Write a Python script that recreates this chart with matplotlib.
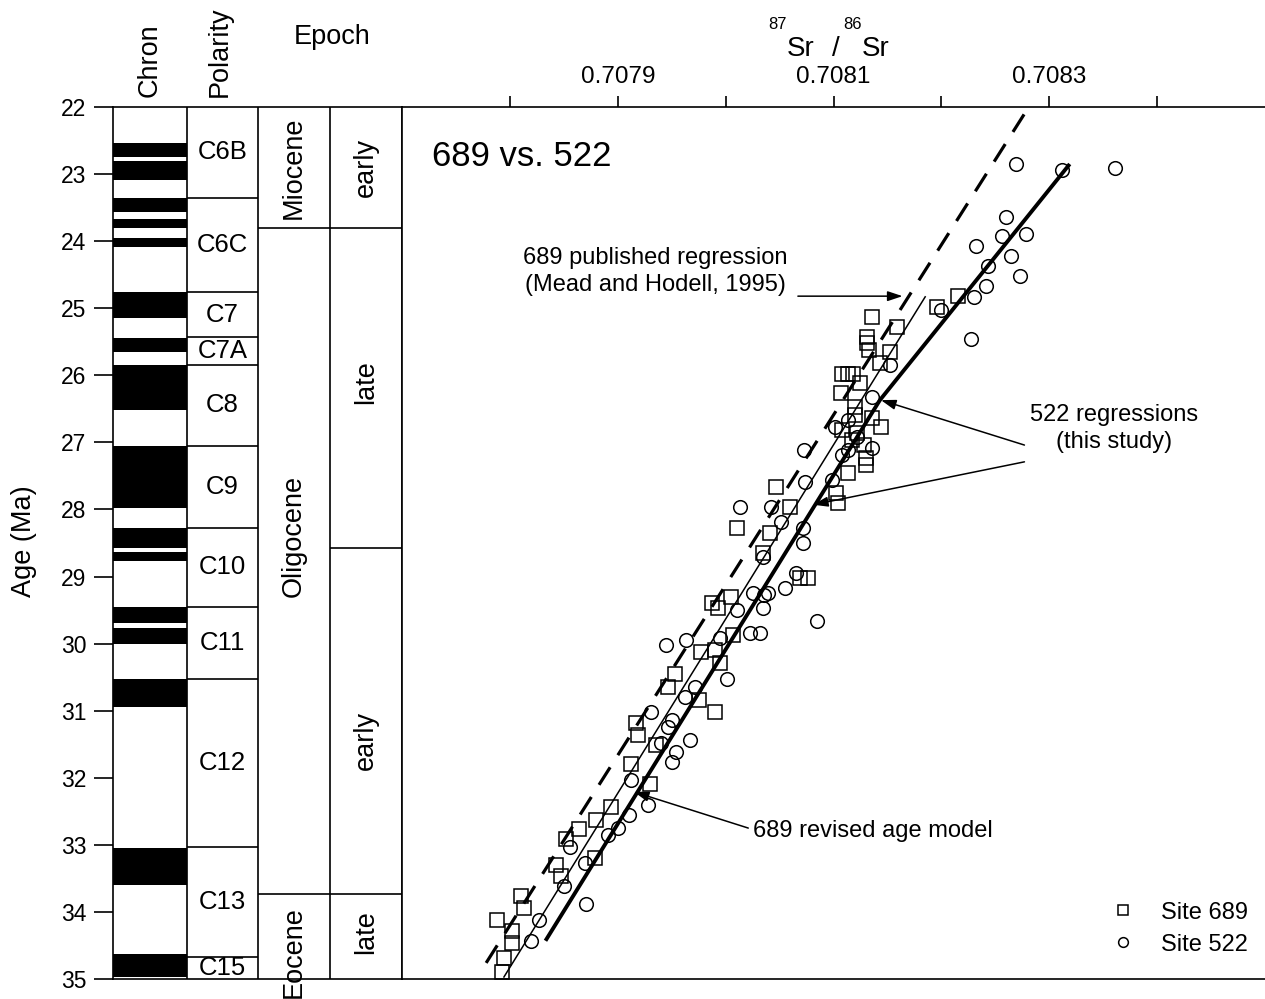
# ==========================================================
# Sr isotope stratigraphy: Site 689 vs. Site 522
# ==========================================================
import matplotlib
matplotlib.use("Agg")
import matplotlib.pyplot as plt
from matplotlib.lines import Line2D

plt.rcParams['font.family'] = ['Liberation Sans', 'DejaVu Sans']

# -------------------------
# Data
# -------------------------
# magnetic chrons: normal polarity (black) intervals, Ma
chron_black_top = [22.54, 22.80, 23.36, 23.67, 23.96, 24.76, 25.44, 25.85,
                   27.05, 28.28, 28.63, 29.46, 29.77, 30.53, 33.04, 34.63]
chron_black_base = [22.74, 23.09, 23.57, 23.80, 24.09, 25.15, 25.65, 26.52,
                    27.98, 28.58, 28.77, 29.69, 30.01, 30.95, 33.60, 34.97]

polarity_names = ["C6B", "C6C", "C7", "C7A", "C8", "C9", "C10", "C11",
                  "C12", "C13", "C15"]
polarity_bounds = [22.0, 23.35, 24.76, 25.43, 25.85, 27.05, 28.27, 29.46,
                   30.53, 33.03, 34.67, 35.0]

epoch_names = ["Miocene", "Oligocene", "Eocene"]
epoch_bounds = [22.0, 23.8, 33.73, 35.0]
epoch_label_age = [22.9, 28.4, 34.6]

sub_names = ["early", "late", "early", "late"]
sub_bounds = [22.0, 23.8, 28.58, 33.73, 35.0]
sub_label_age = [22.9, 26.1, 31.45, 34.3]

# Site 689 (squares)
site689_sr = [
    0.707793, 0.707795, 0.707788, 0.707802, 0.707802, 0.707810, 0.707813, 0.707843, 0.707847, 0.707879,
    0.707852, 0.707864, 0.707880, 0.707894, 0.707912, 0.707930, 0.707917, 0.707919, 0.707935, 0.707947,
    0.707953, 0.707975, 0.707990, 0.707977, 0.707995, 0.707987, 0.707993, 0.708005, 0.708011, 0.708035,
    0.708041, 0.708047, 0.708060, 0.708076, 0.708069, 0.708104, 0.708113, 0.708130, 0.708144, 0.708130,
    0.708107, 0.708125, 0.708108, 0.708113, 0.708118, 0.708143, 0.708152, 0.708131, 0.708131, 0.708133,
    0.708136, 0.708159, 0.708196, 0.708215, 0.708120, 0.708108, 0.708117, 0.708128, 0.708120, 0.708136,
    0.708122, 0.708102, 0.708007, 0.707990]
site689_age = [
    34.89, 34.68, 34.12, 34.46, 34.29, 33.77, 33.94, 33.30, 33.47, 33.19,
    32.92, 32.77, 32.63, 32.43, 31.79, 32.10, 31.18, 31.36, 31.51, 30.64,
    30.46, 30.84, 31.02, 30.12, 30.29, 29.39, 29.47, 29.30, 28.27, 28.65,
    28.35, 27.66, 27.96, 29.02, 29.02, 27.90, 27.45, 27.34, 26.77, 27.23,
    26.26, 26.11, 25.98, 25.98, 25.98, 25.82, 25.65, 25.43, 25.52, 25.62,
    25.13, 25.28, 24.98, 24.82, 26.59, 26.81, 26.96, 27.04, 26.47, 26.63,
    26.86, 27.75, 29.87, 30.09]

# Site 522 (circles)
site522_sr = [
    0.708361, 0.708312, 0.708269, 0.708260, 0.708256, 0.708278, 0.708232, 0.708265, 0.708243, 0.708273,
    0.708241, 0.708230, 0.708227, 0.708200, 0.708152, 0.708136, 0.708101, 0.708136, 0.708073, 0.708074,
    0.708099, 0.708013, 0.708042, 0.708072, 0.708072, 0.708065, 0.708055, 0.708036, 0.708035, 0.708011,
    0.708085, 0.708035, 0.708023, 0.708032, 0.707945, 0.707963, 0.708001, 0.707972, 0.707931, 0.707950,
    0.707967, 0.707954, 0.707950, 0.707940, 0.707912, 0.707928, 0.707910, 0.707900, 0.707891, 0.707856,
    0.707870, 0.707850, 0.707827, 0.707820, 0.707871, 0.708113, 0.708122, 0.708108, 0.708113, 0.707995,
    0.707962, 0.707947, 0.708025, 0.708039, 0.708051]
site522_age = [
    22.91, 22.94, 22.85, 23.64, 23.92, 23.89, 24.07, 24.22, 24.37, 24.52,
    24.67, 24.83, 25.46, 25.03, 25.85, 26.32, 26.77, 27.08, 27.11, 27.59,
    27.56, 27.96, 27.96, 28.27, 28.50, 28.94, 29.17, 29.27, 29.47, 29.50,
    29.66, 28.71, 29.84, 29.84, 30.02, 29.94, 30.53, 30.64, 31.02, 31.14,
    31.43, 31.61, 31.76, 31.48, 32.03, 32.40, 32.55, 32.75, 32.86, 33.03,
    33.27, 33.62, 34.12, 34.44, 33.88, 26.66, 26.92, 27.19, 27.11, 29.91,
    30.79, 31.25, 29.24, 29.24, 28.18]

# regression lines
pub_sr = [0.707778, 0.708281]          # 689 published (Mead and Hodell, 1995)
pub_age = [34.76, 22.0]
rev_sr = [0.7077945, 0.708185]         # 689 revised age model
rev_age = [34.97, 24.83]
reg522_sr = [0.707833, 0.708143, 0.708319]   # 522 regressions (this study)
reg522_age = [34.43, 26.37, 22.85]

sr_ticks = [0.7078, 0.7079, 0.7080, 0.7081, 0.7082, 0.7083, 0.7084]
sr_labels = ["", "0.7079", "", "0.7081", "", "0.7083", ""]

# -------------------------
# Figure layout
# -------------------------
W, H = 1265, 999
fig = plt.figure(figsize=(W / 100, H / 100), dpi=100)

top_px, bot_px = 107, 979
ax0 = fig.add_axes([113 / W, (H - bot_px) / H, (402 - 113) / W, (bot_px - top_px) / H])
ax = fig.add_axes([402 / W, (H - bot_px) / H, (1265 - 402) / W, (bot_px - top_px) / H])

lw = 1.2

# -------------------------
# Left panel: chron / polarity / epoch
# -------------------------
col = [0, 74, 145, 217, 289]
ax0.set_xlim(0, 289)
ax0.set_ylim(35, 22)

for t, b in zip(chron_black_top, chron_black_base):
    ax0.fill_between([col[0], col[1]], t, b, color="black", lw=0)

ax0.vlines(col[1:-1], 22, 35, color="black", lw=lw)
ax0.hlines(polarity_bounds[1:-1], col[1], col[2], color="black", lw=lw)
ax0.hlines(epoch_bounds[1:-1], col[2], col[4], color="black", lw=lw)
ax0.hlines(sub_bounds[2:3], col[3], col[4], color="black", lw=lw)

for i, name in enumerate(polarity_names):
    yc = (polarity_bounds[i] + polarity_bounds[i + 1]) / 2
    ax0.text((col[1] + col[2]) / 2, yc, name, ha="center", va="center",
             fontsize=18.5)

for name, yc in zip(epoch_names, epoch_label_age):
    ax0.text((col[2] + col[3]) / 2, yc, name, ha="center", va="center",
             rotation=90, fontsize=19.5, clip_on=False)

for name, yc in zip(sub_names, sub_label_age):
    ax0.text((col[3] + col[4]) / 2, yc, name, ha="center", va="center",
             rotation=90, fontsize=19.5)

# column headers
ax0.text(37, 21.85, "Chron", rotation=90, ha="center", va="bottom", fontsize=19.5)
ax0.text(107, 21.85, "Polarity", rotation=90, ha="center", va="bottom", fontsize=19.5)
ax0.text(219, 20.96, "Epoch", ha="center", va="center", fontsize=19.5)

ax0.set_xticks([])
ax0.set_yticks(range(22, 36))
ax0.tick_params(axis="y", direction="out", length=14, width=lw, labelsize=16.5, pad=5)
for s in ax0.spines.values():
    s.set_linewidth(lw)

fig.text(24 / W, 1 - 541 / H, "Age (Ma)", rotation=90, ha="center", va="center",
         fontsize=19.5)

# -------------------------
# Main panel: 87Sr/86Sr vs age
# -------------------------
ax.set_xlim(0.7077, 0.7085)
ax.set_ylim(35, 22)

ax.plot(pub_sr, pub_age, color="black", lw=2.3, ls=(0, (6.5, 4.5)))
ax.plot(rev_sr, rev_age, color="black", lw=1.1)
ax.plot(reg522_sr, reg522_age, color="black", lw=2.8, solid_capstyle="butt")

ax.plot(site689_sr, site689_age, ls="", marker="s", ms=9.5, mfc="none",
        mec="black", mew=1.1)
ax.plot(site522_sr, site522_age, ls="", marker="o", ms=9.8, mfc="none",
        mec="black", mew=1.1)

ax.text(0.035, 1 - (166 - top_px) / (bot_px - top_px), "689 vs. 522",
        transform=ax.transAxes, ha="left", va="baseline", fontsize=25)

arrow = dict(arrowstyle="-|>,head_length=0.9,head_width=0.3", color="black",
             lw=1.1, shrinkA=0, shrinkB=0)

ax.text(0.707935, 24.74, "689 published regression\n(Mead and Hodell, 1995)",
        ha="center", va="baseline", fontsize=17, linespacing=1.27)
ax.annotate("", xy=(0.708164, 24.82), xytext=(0.708067, 24.82), arrowprops=arrow)

ax.text(0.708360, 27.08, "522 regressions\n(this study)", ha="center",
        va="baseline", fontsize=17, linespacing=1.27)
ax.annotate("", xy=(0.708144, 26.37), xytext=(0.708277, 27.04), arrowprops=arrow)
ax.annotate("", xy=(0.708081, 27.93), xytext=(0.708277, 27.29), arrowprops=arrow)

ax.text(0.708025, 32.88, "689 revised age model", ha="left", va="baseline",
        fontsize=17)
ax.annotate("", xy=(0.707915, 32.21), xytext=(0.708021, 32.75), arrowprops=arrow)

# top axis
ax.xaxis.tick_top()
ax.set_xticks(sr_ticks)
ax.set_xticklabels(sr_labels)
ax.set_yticks([])
ax.tick_params(axis="x", direction="out", length=8, width=lw, labelsize=17.5, pad=6)
ax.spines["right"].set_visible(False)
for s in ["top", "left", "bottom"]:
    ax.spines[s].set_linewidth(lw)

# axis title 87Sr / 86Sr
fig.text(787 / W, 1 - 56 / H, "Sr", fontsize=20, ha="left", va="baseline")
fig.text(768 / W, 1 - 29 / H, "87", fontsize=12, ha="left", va="baseline")
fig.text(832 / W, 1 - 56 / H, "/", fontsize=20, ha="left", va="baseline")
fig.text(862 / W, 1 - 56 / H, "Sr", fontsize=20, ha="left", va="baseline")
fig.text(843 / W, 1 - 29 / H, "86", fontsize=12, ha="left", va="baseline")

# legend
handles = [
    Line2D([], [], ls="", marker="s", ms=7, mfc="none", mec="black", mew=1.1),
    Line2D([], [], ls="", marker="o", ms=7, mfc="none", mec="black", mew=1.1),
]
ax.legend(handles, ["Site 689", "Site 522"], loc="lower right",
          bbox_to_anchor=(0.991, 0.016), borderaxespad=0, frameon=False,
          fontsize=17, handlelength=1.0, handletextpad=1.1, labelspacing=0.42)

plt.savefig("out.png", dpi=100)
